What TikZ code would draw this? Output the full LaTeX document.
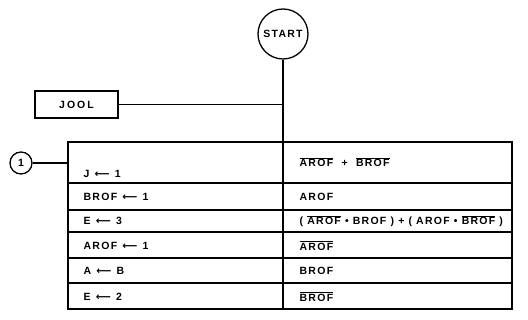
\documentclass[tikz,border=0pt]{standalone}
\usepackage{fontspec}
\setmainfont{Liberation Sans}[LetterSpace=12]
\newfontfamily\arrfont{DejaVu Sans}
\begin{document}
\begin{tikzpicture}[x=1pt,y=-1pt,
  line width=1.3pt,
  lbl/.style={font=\bfseries\fontsize{10.5}{12}\selectfont, inner sep=0pt},
  lt/.style={lbl, anchor=west},
  box/.style={draw, line width=1.3pt}]
\useasboundingbox (0,0) rectangle (528,320);
\newcommand{\ov}[1]{$\overline{\hbox{#1}}$}
\newcommand{\la}{\hspace{1pt}{\arrfont\bfseries ⟵}\hspace{1pt}}
% start
\node[draw, circle, minimum size=50pt, lbl] (start) at (283,34) {START};
% JOOL
\node[box, minimum width=83pt, minimum height=27pt, lbl] (jool) at (76.5,104.5) {J\hspace{2pt}O\hspace{2pt}O\hspace{2pt}L};
\coordinate (tabtop) at (283,142);
\coordinate (jj) at (283,104.5);
\draw (start.south) -- (tabtop);
\draw (jool.east) -- (jj);
% table
\coordinate (tl) at (68,142);
\coordinate (br) at (512,309);
\draw (tl) rectangle (br);
\coordinate (dt) at (283,142);
\coordinate (db) at (283,309);
\draw (dt) -- (db);
\foreach \y in {183,210,258,283} {\draw (68,\y) -- (512,\y);}
\draw[line width=2pt] (68,232) -- (512,232);
% connector 1
\node[draw, circle, minimum size=22pt, inner sep=0pt, lbl] (one) at (21,163) {1};
\coordinate (tabl) at (68,163);
\draw (one.east) -- (tabl);
% left column
\node[lt] (l1) at (83,174) {J \la\ 1};
\node[lt] (l2) at (83,197) {BROF \la\ 1};
\node[lt] (l3) at (83,221) {E \la\ 3};
\node[lt] (l4) at (83,245.5) {AROF \la\ 1};
\node[lt] (l5) at (83,271) {A \la\ B};
\node[lt] (l6) at (83,296.5) {E \la\ 2};
% right column
\node[lt] (r1) at (299,162) {\ov{AROF}\ \ +\ \ \ov{BROF}};
\node[lt] (r2) at (299,197) {AROF};
\node[lt] (r3) at (299,221) {( \ov{AROF} • BROF ) + ( AROF • \ov{BROF} )};
\node[lt] (r4) at (299,245.5) {\ov{AROF}};
\node[lt] (r5) at (299,271) {BROF};
\node[lt] (r6) at (299,296.5) {\ov{BROF}};
\end{tikzpicture}
\end{document}
